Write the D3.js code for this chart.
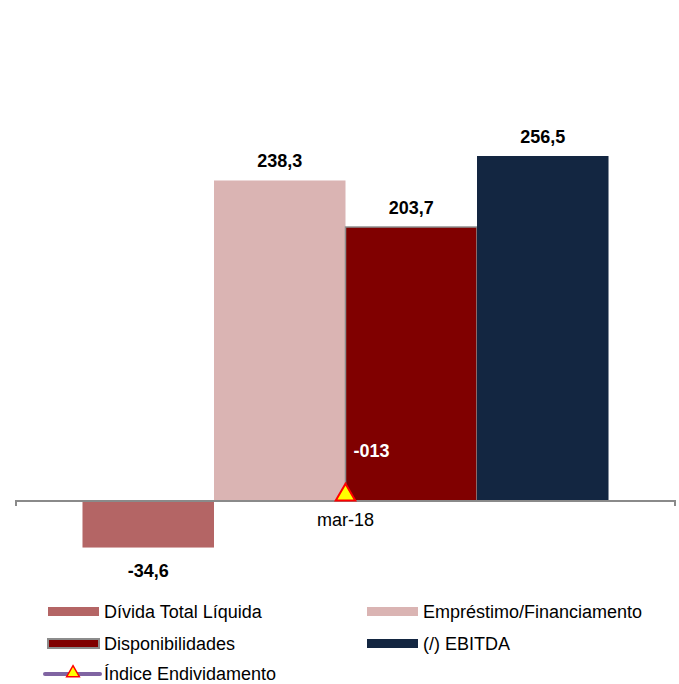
<!DOCTYPE html>
<html>
<head>
<meta charset="utf-8">
<script src="https://cdn.jsdelivr.net/npm/d3@7/dist/d3.min.js"></script>
<style>
  html, body { margin: 0; padding: 0; background: #fff; }
  svg { display: block; font-family: Arial, "Liberation Sans", sans-serif; }
</style>
</head>
<body>
<div id="chart"></div>
<script>

// data
var categories = ['mar-18'];
var seriesNames = ['Dívida Total Líquida', 'Empréstimo/Financiamento', 'Disponibilidades', '(/) EBITDA'];
var seriesValues = [-34.6, 238.3, 203.7, 256.5];
var seriesLabels = ['-34,6', '238,3', '203,7', '256,5'];
var lineName = 'Índice Endividamento';
var lineValues = [-0.13];
var lineLabels = ['-013'];

var colors = ['#b46565', '#dab4b3', '#800000', '#132641'];
var lineColor = '#8064a2';

var width = 679, height = 684;

function translate(x, y) {
  return 'translate(' + x + ',' + y + ')';
}

var svg = d3.select('#chart').append('svg')
  .attr('width', width)
  .attr('height', height);

// scales
var x0 = d3.scaleBand()
  .domain(categories)
  .range([16, 675])
  .paddingInner(0)
  .paddingOuter(0.1264);

var x1 = d3.scaleBand()
  .domain(seriesNames)
  .range([0, x0.bandwidth()]);

var y = d3.scaleLinear()
  .domain([-50, 300])
  .range([568.25, 97.5]);

// secondary axis for the ratio line
var y2 = d3.scaleLinear()
  .domain([-0.6, 2.42])
  .range([568.25, 97.5]);

// bars
var groups = svg.selectAll('.cat')
  .data(categories)
  .enter().append('g')
  .attr('class', 'cat')
  .attr('transform', function(d) { return translate(x0(d), 0); });

groups.selectAll('rect')
  .data(seriesNames)
  .enter().append('rect')
  .attr('x', function(d) { return x1(d); })
  .attr('width', x1.bandwidth())
  .attr('y', function(d, i) { return y(Math.max(0, seriesValues[i])); })
  .attr('height', function(d, i) { return Math.abs(y(seriesValues[i]) - y(0)); })
  .attr('fill', function(d, i) { return colors[i]; })
  .attr('stroke', function(d, i) { return i === 2 ? '#8c8c8c' : 'none'; })
  .attr('stroke-width', 1.5);

// value labels
groups.selectAll('.val')
  .data(seriesNames)
  .enter().append('text')
  .attr('class', 'val')
  .attr('x', function(d) { return x1(d) + x1.bandwidth() / 2; })
  .attr('y', function(d, i) {
    var v = seriesValues[i];
    return v >= 0 ? y(v) - 13 : y(v) + 29;
  })
  .attr('text-anchor', 'middle')
  .attr('font-size', '18px')
  .attr('font-weight', 'bold')
  .attr('fill', '#000')
  .text(function(d, i) { return seriesLabels[i]; });

// x axis
var axisG = svg.append('g')
  .attr('transform', translate(0, y(0)))
  .call(d3.axisBottom(x0).tickSize(0).tickPadding(12));

axisG.select('.domain').remove();
axisG.append('path')
  .attr('d', 'M16,5V0H675V5')
  .attr('fill', 'none')
  .attr('stroke', '#8a8a8a')
  .attr('stroke-width', 2);

axisG.selectAll('.tick text')
  .attr('font-size', '18px')
  .attr('font-family', 'Arial, "Liberation Sans", sans-serif')
  .attr('fill', '#000');

// ratio line (single point)
var tri = d3.symbol().type(d3.symbolTriangle).size(165);

var pts = svg.selectAll('.pt')
  .data(categories)
  .enter().append('g')
  .attr('class', 'pt')
  .attr('transform', function(d, i) {
    return translate(x0(d) + x0.bandwidth() / 2, y2(lineValues[i]));
  });

pts.append('path')
  .attr('d', tri)
  .attr('fill', '#ffff00')
  .attr('stroke', '#ff0000')
  .attr('stroke-width', 2);

pts.append('text')
  .attr('x', 8)
  .attr('y', -38)
  .attr('font-size', '18px')
  .attr('font-weight', 'bold')
  .attr('fill', '#fff')
  .text(function(d, i) { return lineLabels[i]; });

// legend
var legendItems = [
  { name: seriesNames[0], color: colors[0], col: 0, row: 0, type: 'bar' },
  { name: seriesNames[1], color: colors[1], col: 1, row: 0, type: 'bar' },
  { name: seriesNames[2], color: colors[2], col: 0, row: 1, type: 'bar', stroke: '#8c8c8c' },
  { name: seriesNames[3], color: colors[3], col: 1, row: 1, type: 'bar' },
  { name: lineName, color: lineColor, col: 0, row: 2, type: 'line' }
];

var legendX = [48, 367];
var legendY = [611.5, 643.5, 674];

var legend = svg.selectAll('.legend')
  .data(legendItems)
  .enter().append('g')
  .attr('class', 'legend')
  .attr('transform', function(d) { return translate(legendX[d.col], legendY[d.row]); });

legend.filter(function(d) { return d.type === 'bar'; })
  .append('rect')
  .attr('x', 0)
  .attr('y', -4.5)
  .attr('width', 51)
  .attr('height', 9)
  .attr('fill', function(d) { return d.color; })
  .attr('stroke', function(d) { return d.stroke || 'none'; })
  .attr('stroke-width', 2);

var lineLeg = legend.filter(function(d) { return d.type === 'line'; });

lineLeg.append('line')
  .attr('x1', -3).attr('x2', 52)
  .attr('y1', 0).attr('y2', 0)
  .attr('stroke', function(d) { return d.color; })
  .attr('stroke-width', 4)
  .attr('stroke-linecap', 'round');

lineLeg.append('path')
  .attr('transform', translate(25, -1))
  .attr('d', d3.symbol().type(d3.symbolTriangle).size(70))
  .attr('fill', '#ffff00')
  .attr('stroke', '#ff0000')
  .attr('stroke-width', 1.5);

legend.append('text')
  .attr('x', 56)
  .attr('y', 6)
  .attr('font-size', '18px')
  .attr('fill', '#000')
  .text(function(d) { return d.name; });

</script>
</body>
</html>
